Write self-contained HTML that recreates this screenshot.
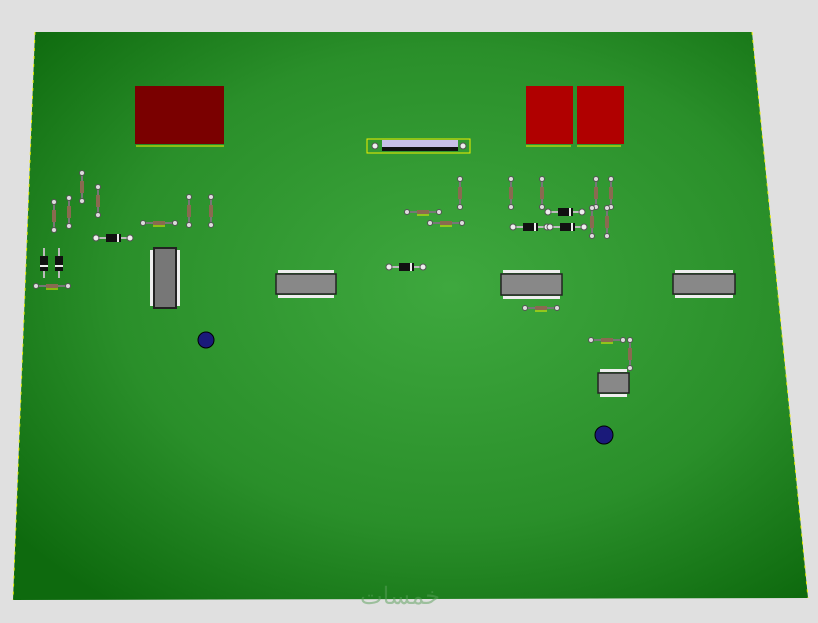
<!DOCTYPE html>
<html><head><style>body{margin:0;background:#e0e0e0;width:818px;height:618px;overflow:hidden}</style></head><body>
<svg width="818" height="618" xmlns="http://www.w3.org/2000/svg" font-family="Liberation Sans, sans-serif">
<defs>
<radialGradient id="g" cx="0.55" cy="0.45" r="0.7">
<stop offset="0" stop-color="#3ea83e"/><stop offset="0.6" stop-color="#2a8f2a"/><stop offset="1" stop-color="#0e6a0e"/>
</radialGradient>
<g id="rv"><line x1="0" y1="0" x2="0" y2="28" stroke="#777" stroke-width="2"/><rect x="-2" y="8" width="4" height="12" fill="#8a6a50"/><circle cx="0" cy="0" r="2.5" fill="#ddd" stroke="#555"/><circle cx="0" cy="28" r="2.5" fill="#ddd" stroke="#555"/></g>
<g id="rh"><line x1="0" y1="0" x2="32" y2="0" stroke="#777" stroke-width="2"/><rect x="10" y="-2" width="12" height="4" fill="#8a6a50"/><line x1="10" y1="3" x2="22" y2="3" stroke="#ee0" /><circle cx="0" cy="0" r="2.5" fill="#ddd" stroke="#555"/><circle cx="32" cy="0" r="2.5" fill="#ddd" stroke="#555"/></g>
<g id="dh"><line x1="0" y1="0" x2="34" y2="0" stroke="#bbb" stroke-width="2"/><rect x="10" y="-4" width="15" height="8" fill="#111"/><rect x="21" y="-4" width="2" height="8" fill="#eee"/><circle cx="0" cy="0" r="3" fill="#eee" stroke="#555"/><circle cx="34" cy="0" r="3" fill="#eee" stroke="#555"/></g>
</defs>
<polygon points="35,32 752,32 808,598 13,600" fill="url(#g)"/>
<line x1="35" y1="32" x2="13" y2="600" stroke="#ee0" stroke-dasharray="3,5"/>
<line x1="752" y1="32" x2="808" y2="598" stroke="#ee0" stroke-dasharray="3,5"/>
<!-- red blocks -->
<rect x="135" y="86" width="89" height="58" fill="#7a0000"/><line x1="136" y1="146" x2="224" y2="146" stroke="#ee0"/>
<rect x="526" y="86" width="47" height="58" fill="#b00000"/><rect x="577" y="86" width="47" height="58" fill="#b00000"/>
<line x1="526" y1="146" x2="571" y2="146" stroke="#ee0"/><line x1="577" y1="146" x2="621" y2="146" stroke="#ee0"/>
<!-- crystal bar -->
<rect x="367" y="139" width="103" height="14" fill="none" stroke="#ee0"/>
<rect x="382" y="140" width="76" height="10" fill="#c8c0e8"/><rect x="382" y="147" width="76" height="4" fill="#111"/>
<circle cx="375" cy="146" r="3" fill="#eee" stroke="#555"/><circle cx="463" cy="146" r="3" fill="#eee" stroke="#555"/>
<!-- ICs -->
<rect x="154" y="248" width="22" height="60" fill="#777" stroke="#222" stroke-width="2"/>
<rect x="276" y="274" width="60" height="20" fill="#888" stroke="#222" stroke-width="1.5"/>
<rect x="501" y="274" width="61" height="21" fill="#888" stroke="#222" stroke-width="1.5"/>
<rect x="673" y="274" width="62" height="20" fill="#888" stroke="#222" stroke-width="1.5"/>
<rect x="598" y="373" width="31" height="20" fill="#888" stroke="#222" stroke-width="1.5"/>
<g fill="#eee">
<rect x="278" y="270" width="56" height="3"/><rect x="278" y="295" width="56" height="3"/>
<rect x="503" y="270" width="57" height="3"/><rect x="503" y="296" width="57" height="3"/>
<rect x="675" y="270" width="58" height="3"/><rect x="675" y="295" width="58" height="3"/>
<rect x="600" y="369" width="27" height="3"/><rect x="600" y="394" width="27" height="3"/>
<rect x="150" y="250" width="3" height="56"/><rect x="177" y="250" width="3" height="56"/>
</g>
<!-- caps -->
<circle cx="206" cy="340" r="8" fill="#1a1a7a" stroke="#000"/>
<circle cx="604" cy="435" r="9" fill="#1a1a7a" stroke="#000"/>
<!-- resistors vertical -->
<use href="#rv" x="82" y="173"/><use href="#rv" x="54" y="202"/><use href="#rv" x="69" y="198"/><use href="#rv" x="98" y="187"/>
<use href="#rv" x="189" y="197"/><use href="#rv" x="211" y="197"/>
<use href="#rv" x="460" y="179"/><use href="#rv" x="511" y="179"/><use href="#rv" x="542" y="179"/>
<use href="#rv" x="596" y="179"/><use href="#rv" x="611" y="179"/><use href="#rv" x="592" y="208"/><use href="#rv" x="607" y="208"/>
<use href="#rv" x="630" y="340"/>
<!-- resistors horizontal -->
<use href="#rh" x="143" y="223"/><use href="#rh" x="36" y="286"/><use href="#rh" x="407" y="212"/><use href="#rh" x="430" y="223"/>
<use href="#rh" x="525" y="308"/><use href="#rh" x="591" y="340"/>
<!-- diodes -->
<use href="#dh" x="96" y="238"/><use href="#dh" x="389" y="267"/><use href="#dh" x="513" y="227"/><use href="#dh" x="550" y="227"/><use href="#dh" x="548" y="212"/>
<g><line x1="44" y1="248" x2="44" y2="278" stroke="#bbb" stroke-width="2"/><rect x="40" y="256" width="8" height="15" fill="#111"/><rect x="40" y="265" width="8" height="2" fill="#eee"/>
<line x1="59" y1="248" x2="59" y2="278" stroke="#bbb" stroke-width="2"/><rect x="55" y="256" width="8" height="15" fill="#111"/><rect x="55" y="265" width="8" height="2" fill="#eee"/></g>
<text x="360" y="604" font-size="24" fill="#5aa05a" opacity="0.5">خمسات</text>
</svg>
</body></html>
